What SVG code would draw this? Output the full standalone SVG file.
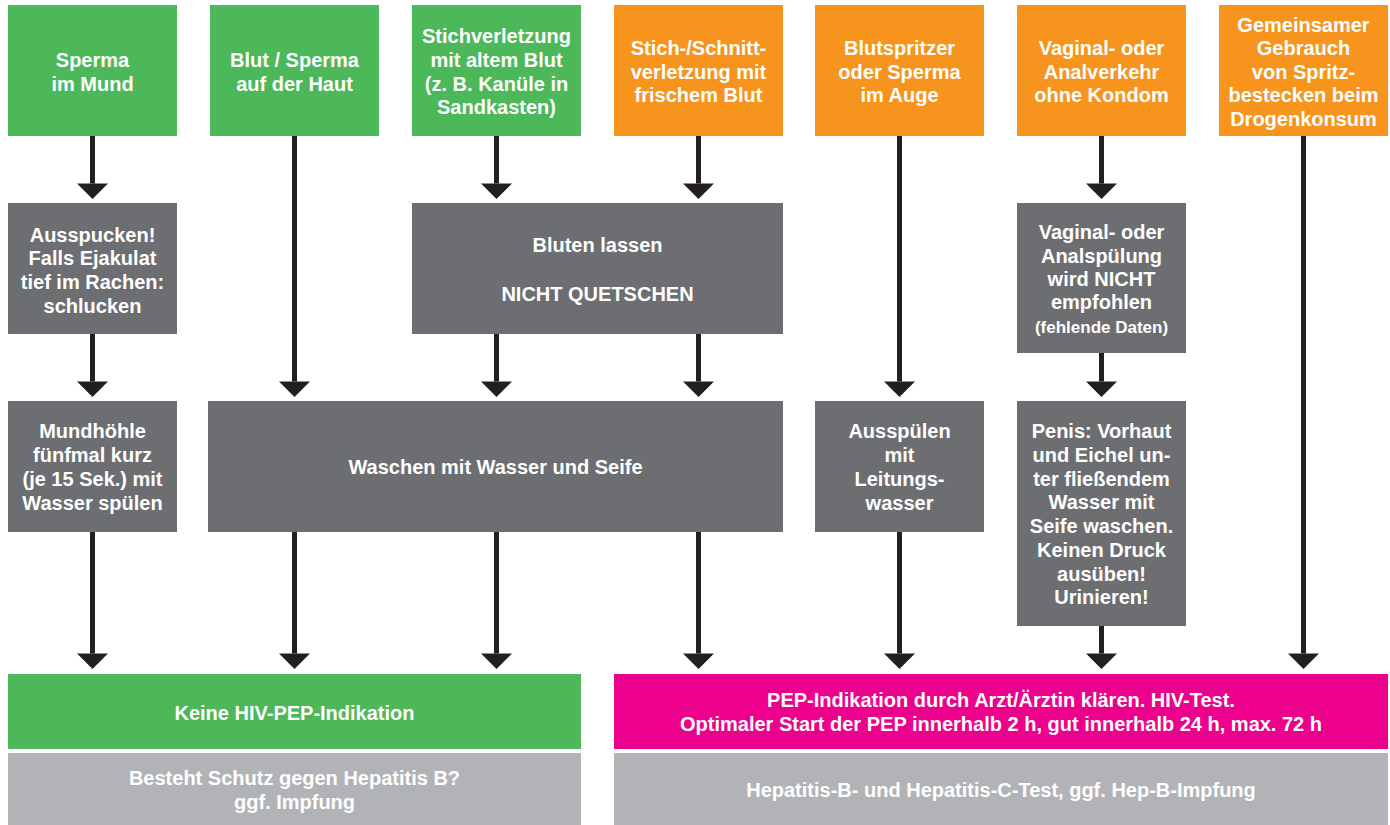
<svg xmlns="http://www.w3.org/2000/svg" width="1390" height="825" viewBox="0 0 1390 825">
<style>
.g{fill:#4cb85a}.o{fill:#f7941e}.d{fill:#6d6e71}.l{fill:#b1b3b6}.p{fill:#ec008c}
text{font-family:"Liberation Sans",Arial,sans-serif;font-weight:bold;font-size:20px;fill:#fff;text-anchor:middle}
.sm{font-size:17px}
.c line{stroke:#231f20;stroke-width:5;marker-end:url(#ah)}
</style>
<defs>
<marker id="ah" markerUnits="userSpaceOnUse" markerWidth="16" markerHeight="31" viewBox="0 -15.5 16 31" refX="0" refY="0" orient="auto" overflow="visible">
<path d="M0,-15.5 L15.5,0 L0,15.5 Z" fill="#231f20"/>
</marker>
</defs>
<rect width="1390" height="825" fill="#fff"/>

<g id="n1"><rect class="g" x="8" y="5" width="169" height="131"/><text x="92.5" y="67">Sperma</text><text x="92.5" y="91">im Mund</text></g>
<g id="n2"><rect class="g" x="210" y="5" width="169" height="131"/><text x="294.5" y="67">Blut / Sperma</text><text x="294.5" y="91">auf der Haut</text></g>
<g id="n3"><rect class="g" x="412" y="5" width="169" height="131"/><text x="496.5" y="43">Stichverletzung</text><text x="496.5" y="67">mit altem Blut</text><text x="496.5" y="91">(z. B. Kanüle in</text><text x="496.5" y="114">Sandkasten)</text></g>
<g id="n4"><rect class="o" x="614" y="5" width="169" height="131"/><text x="698.5" y="55">Stich-/Schnitt-</text><text x="698.5" y="79">verletzung mit</text><text x="698.5" y="102">frischem Blut</text></g>
<g id="n5"><rect class="o" x="815" y="5" width="169" height="131"/><text x="899.5" y="55">Blutspritzer</text><text x="899.5" y="79">oder Sperma</text><text x="899.5" y="102">im Auge</text></g>
<g id="n6"><rect class="o" x="1017" y="5" width="169" height="131"/><text x="1101.5" y="55">Vaginal- oder</text><text x="1101.5" y="79">Analverkehr</text><text x="1101.5" y="102">ohne Kondom</text></g>
<g id="n7"><rect class="o" x="1219" y="5" width="169" height="131"/><text x="1303.5" y="32">Gemeinsamer</text><text x="1303.5" y="55">Gebrauch</text><text x="1303.5" y="79">von Spritz-</text><text x="1303.5" y="102">bestecken beim</text><text x="1303.5" y="126">Drogenkonsum</text></g>

<g id="n8"><rect class="d" x="8" y="203" width="169" height="131"/><text x="92.5" y="242">Ausspucken!</text><text x="92.5" y="265">Falls Ejakulat</text><text x="92.5" y="289">tief im Rachen:</text><text x="92.5" y="313">schlucken</text></g>
<g id="n9"><rect class="d" x="412" y="203" width="371" height="131"/><text x="597.5" y="252">Bluten lassen</text><text x="597.5" y="301">NICHT QUETSCHEN</text></g>
<g id="n10"><rect class="d" x="1017" y="203" width="169" height="150"/><text x="1101.5" y="239">Vaginal- oder</text><text x="1101.5" y="263">Analspülung</text><text x="1101.5" y="286">wird NICHT</text><text x="1101.5" y="309">empfohlen</text><text class="sm" x="1101.5" y="333">(fehlende Daten)</text></g>

<g id="n11"><rect class="d" x="8" y="401" width="169" height="131"/><text x="92.5" y="438">Mundhöhle</text><text x="92.5" y="462">fünfmal kurz</text><text x="92.5" y="486">(je 15 Sek.) mit</text><text x="92.5" y="510">Wasser spülen</text></g>
<g id="n12"><rect class="d" x="208" y="401" width="575" height="131"/><text x="495.5" y="474">Waschen mit Wasser und Seife</text></g>
<g id="n13"><rect class="d" x="815" y="401" width="169" height="131"/><text x="899.5" y="438">Ausspülen</text><text x="899.5" y="462">mit</text><text x="899.5" y="486">Leitungs-</text><text x="899.5" y="510">wasser</text></g>
<g id="n14"><rect class="d" x="1017" y="401" width="169" height="225"/><text x="1101.5" y="438">Penis: Vorhaut</text><text x="1101.5" y="462">und Eichel un-</text><text x="1101.5" y="486">ter fließendem</text><text x="1101.5" y="509">Wasser mit</text><text x="1101.5" y="533">Seife waschen.</text><text x="1101.5" y="557">Keinen Druck</text><text x="1101.5" y="581">ausüben!</text><text x="1101.5" y="604">Urinieren!</text></g>

<g id="n15"><rect class="g" x="8" y="674" width="573" height="75"/><text x="294.5" y="720">Keine HIV-PEP-Indikation</text></g>
<g id="n16"><rect class="p" x="614" y="674" width="774" height="75"/><text x="1001" y="707">PEP-Indikation durch Arzt/Ärztin klären. HIV-Test.</text><text x="1001" y="731">Optimaler Start der PEP innerhalb 2 h, gut innerhalb 24 h, max. 72 h</text></g>
<g id="n17"><rect class="l" x="8" y="753" width="573" height="72"/><text x="294.5" y="785">Besteht Schutz gegen Hepatitis B?</text><text x="294.5" y="809">ggf. Impfung</text></g>
<g id="n18"><rect class="l" x="614" y="753" width="774" height="72"/><text x="1001" y="797">Hepatitis-B- und Hepatitis-C-Test, ggf. Hep-B-Impfung</text></g>

<g id="connectors" class="c">
<line x1="92.5" y1="136" x2="92.5" y2="183.5"/>
<line x1="92.5" y1="334" x2="92.5" y2="381.5"/>
<line x1="92.5" y1="532" x2="92.5" y2="653.5"/>
<line x1="294.5" y1="136" x2="294.5" y2="381.5"/>
<line x1="294.5" y1="532" x2="294.5" y2="653.5"/>
<line x1="496.5" y1="136" x2="496.5" y2="183.5"/>
<line x1="496.5" y1="334" x2="496.5" y2="381.5"/>
<line x1="496.5" y1="532" x2="496.5" y2="653.5"/>
<line x1="698.5" y1="136" x2="698.5" y2="183.5"/>
<line x1="698.5" y1="334" x2="698.5" y2="381.5"/>
<line x1="698.5" y1="532" x2="698.5" y2="653.5"/>
<line x1="899.5" y1="136" x2="899.5" y2="381.5"/>
<line x1="899.5" y1="532" x2="899.5" y2="653.5"/>
<line x1="1101.5" y1="136" x2="1101.5" y2="183.5"/>
<line x1="1101.5" y1="353" x2="1101.5" y2="381.5"/>
<line x1="1101.5" y1="626" x2="1101.5" y2="653.5"/>
<line x1="1303.5" y1="136" x2="1303.5" y2="653.5"/>
</g>
</svg>
